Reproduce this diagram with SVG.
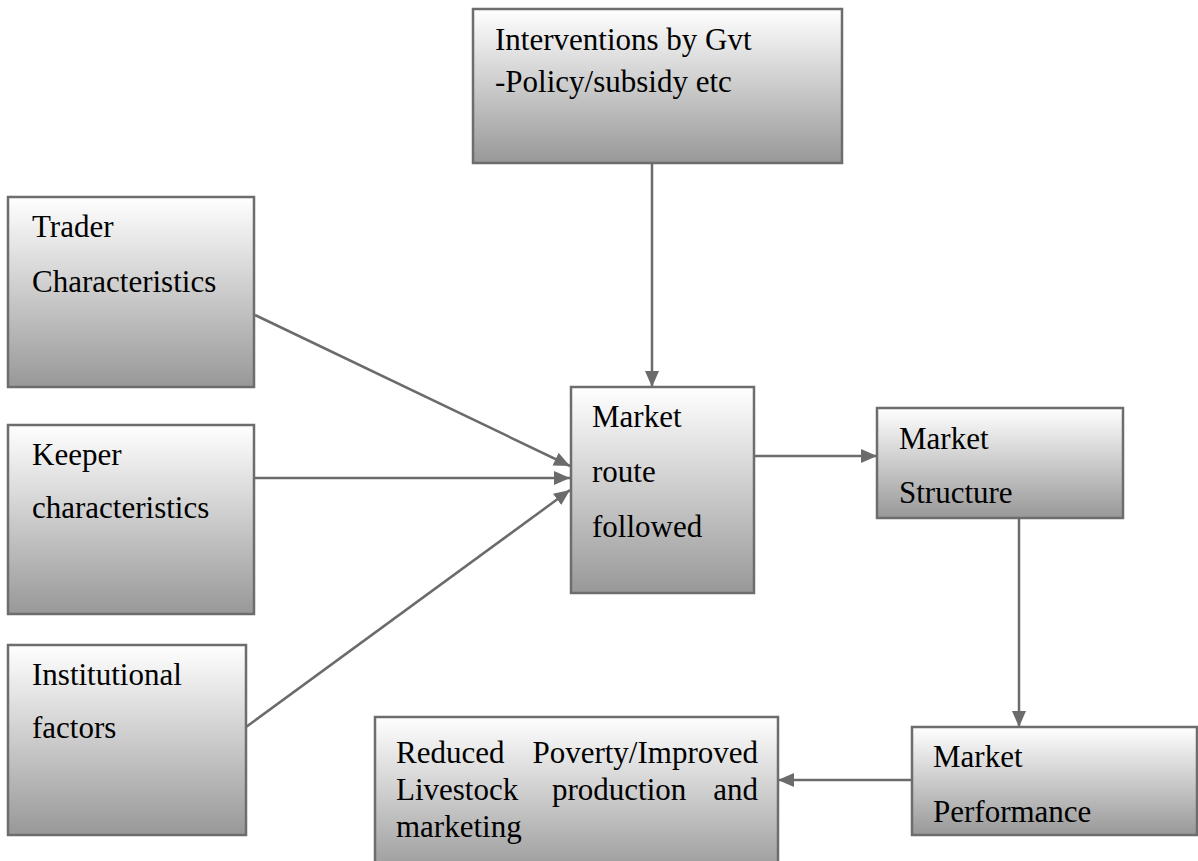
<svg xmlns="http://www.w3.org/2000/svg" width="1198" height="861" viewBox="0 0 1198 861">
<defs>
<linearGradient id="g" x1="0" y1="0" x2="0" y2="1">
<stop offset="0" stop-color="#ffffff"/>
<stop offset="1" stop-color="#989898"/>
</linearGradient>
<marker id="ah" markerUnits="userSpaceOnUse" markerWidth="18" markerHeight="16" refX="16" refY="7" orient="auto">
<path d="M0,0 L16,7 L0,14 Z" fill="#6b6b6b"/>
</marker>
<style>
.box{fill:url(#g);stroke:#6d6d6d;stroke-width:2.5}
.t{font-family:"Liberation Serif","Times New Roman",serif;font-size:31px;fill:#000}
.c{stroke:#6b6b6b;stroke-width:2.5;fill:none;marker-end:url(#ah)}
</style>
</defs>
<rect width="1198" height="861" fill="#ffffff"/>
<g id="connectors">
<line class="c" x1="652" y1="163" x2="652" y2="387"/>
<line class="c" x1="255" y1="315" x2="570" y2="466"/>
<line class="c" x1="254" y1="478" x2="570" y2="478"/>
<line class="c" x1="246" y1="727" x2="570" y2="490"/>
<line class="c" x1="754" y1="456" x2="877" y2="456"/>
<line class="c" x1="1019" y1="518" x2="1019" y2="727"/>
<line class="c" x1="912" y1="780" x2="778" y2="780"/>
</g>
<g id="interventions">
<rect class="box" x="473" y="9" width="369" height="154"/>
<text class="t" x="495" y="50">Interventions by Gvt</text>
<text class="t" x="495" y="92">-Policy/subsidy etc</text>
</g>
<g id="trader">
<rect class="box" x="8" y="197" width="246" height="190"/>
<text class="t" x="32" y="237">Trader</text>
<text class="t" x="32" y="292">Characteristics</text>
</g>
<g id="keeper">
<rect class="box" x="8" y="425" width="246" height="189"/>
<text class="t" x="32" y="465">Keeper</text>
<text class="t" x="32" y="518">characteristics</text>
</g>
<g id="institutional">
<rect class="box" x="8" y="645" width="238" height="190"/>
<text class="t" x="32" y="685">Institutional</text>
<text class="t" x="32" y="738">factors</text>
</g>
<g id="route">
<rect class="box" x="571" y="387" width="183" height="206"/>
<text class="t" x="592" y="427">Market</text>
<text class="t" x="592" y="482">route</text>
<text class="t" x="592" y="537">followed</text>
</g>
<g id="structure">
<rect class="box" x="877" y="408" width="246" height="110"/>
<text class="t" x="899" y="449">Market</text>
<text class="t" x="899" y="503">Structure</text>
</g>
<g id="performance">
<rect class="box" x="912" y="727" width="285" height="108"/>
<text class="t" x="933" y="767">Market</text>
<text class="t" x="933" y="822">Performance</text>
</g>
<g id="outcome">
<rect class="box" x="375" y="717" width="403" height="160"/>
<text class="t" x="396" y="763">Reduced</text>
<text class="t" x="758" y="763" text-anchor="end">Poverty/Improved</text>
<text class="t" x="396" y="800">Livestock</text>
<text class="t" x="552" y="800">production</text>
<text class="t" x="758" y="800" text-anchor="end">and</text>
<text class="t" x="396" y="837">marketing</text>
</g>
</svg>
